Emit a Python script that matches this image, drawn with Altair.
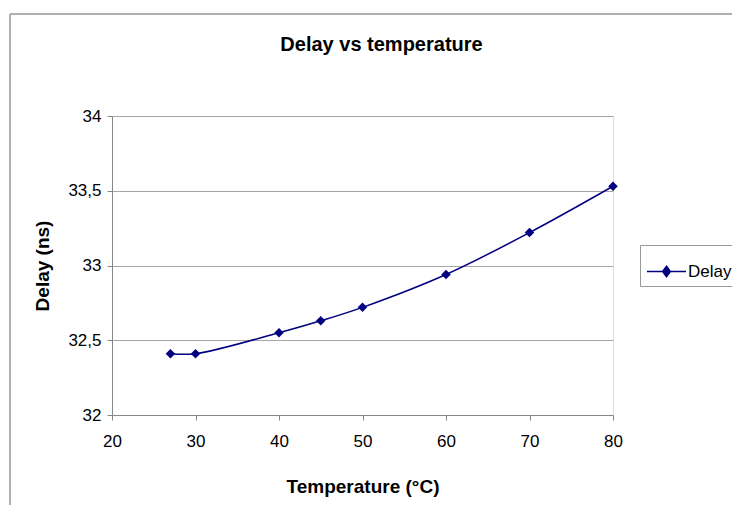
import altair as alt
import pandas as pd

temperature = [27, 30, 40, 45, 50, 60, 70, 80]
delay = [32.41, 32.41, 32.55, 32.63, 32.72, 32.94, 33.22, 33.53]
series = ["Delay"] * len(temperature)
x_ticks = [20, 30, 40, 50, 60, 70, 80]
y_ticks = [32, 32.5, 33, 33.5, 34]

df = pd.DataFrame({"Temperature": temperature, "Delay": delay, "Series": series})

W, H = 501, 299
NAVY = "#000080"
FONT = "Liberation Sans"

x = alt.X(
    "Temperature:Q",
    scale=alt.Scale(domain=[20, 80], nice=False, zero=False),
    axis=alt.Axis(
        values=x_ticks, title="Temperature (°C)", grid=False,
        domainColor="#888888", tickColor="#888888", tickSize=5,
        labelFontSize=17, labelFont=FONT, labelColor="#000000", labelPadding=13,
        titleFontSize=19, titleFont=FONT, titleFontWeight="bold", titleColor="#000000",
        titlePadding=28, labelFlush=False,
    ),
)
y = alt.Y(
    "Delay:Q",
    scale=alt.Scale(domain=[32, 34], nice=False, zero=False),
    axis=alt.Axis(
        values=y_ticks, title="Delay (ns)", grid=True, gridColor="#a6a6a6",
        domainColor="#888888", tickColor="#888888", tickSize=5,
        labelExpr="replace(format(datum.value, ''), '.', ',')",
        labelFontSize=17, labelFont=FONT, labelColor="#000000", labelPadding=6,
        titleFontSize=19, titleFont=FONT, titleFontWeight="bold", titleColor="#000000",
        titlePadding=15, labelFlush=False,
    ),
)

base = alt.Chart(df)

line = base.mark_line(interpolate="catmull-rom", strokeWidth=1.5).encode(
    x=x, y=y,
    color=alt.Color(
        "Series:N",
        scale=alt.Scale(range=[NAVY]),
        legend=alt.Legend(
            title=None, orient="none", legendX=528, legendY=129,
            strokeColor="#999999", padding=6,
            symbolType="M-1,0L1,0M0,-0.27L0.2,0L0,0.27L-0.2,0Z",
            symbolSize=1521, symbolStrokeWidth=1.5,
            symbolFillColor=NAVY, symbolStrokeColor=NAVY,
            labelFontSize=17, labelFont=FONT, labelColor="#000000", labelOffset=1,
        ),
    ),
)
pts = base.mark_point(shape="diamond", filled=True, size=90, opacity=1, color=NAVY).encode(x=x, y=y)

frame_left = base.mark_rule(color="#b0b0b0", strokeWidth=1.5).encode(
    x=alt.value(-102), y=alt.value(-102), y2=alt.value(H + 200)
)
frame_top = base.mark_rule(color="#b0b0b0", strokeWidth=1.5).encode(
    x=alt.value(-102), x2=alt.value(W + 140), y=alt.value(-102)
)

chart = alt.layer(frame_left, frame_top, line, pts).properties(
    width=W, height=H,
    title=alt.TitleParams(
        "Delay vs temperature", fontSize=20, font=FONT, fontWeight="bold",
        color="#000000", frame="group", anchor="middle", baseline="alphabetic",
        offset=0, dx=19, dy=58,
    ),
    autosize=alt.AutoSizeParams(type="none"),
    padding={"left": 104, "top": 108, "right": 119, "bottom": 90},
).configure_view(stroke=None).configure(background="white")

chart.save("out.html", embed_options={"renderer": "svg", "actions": False})
